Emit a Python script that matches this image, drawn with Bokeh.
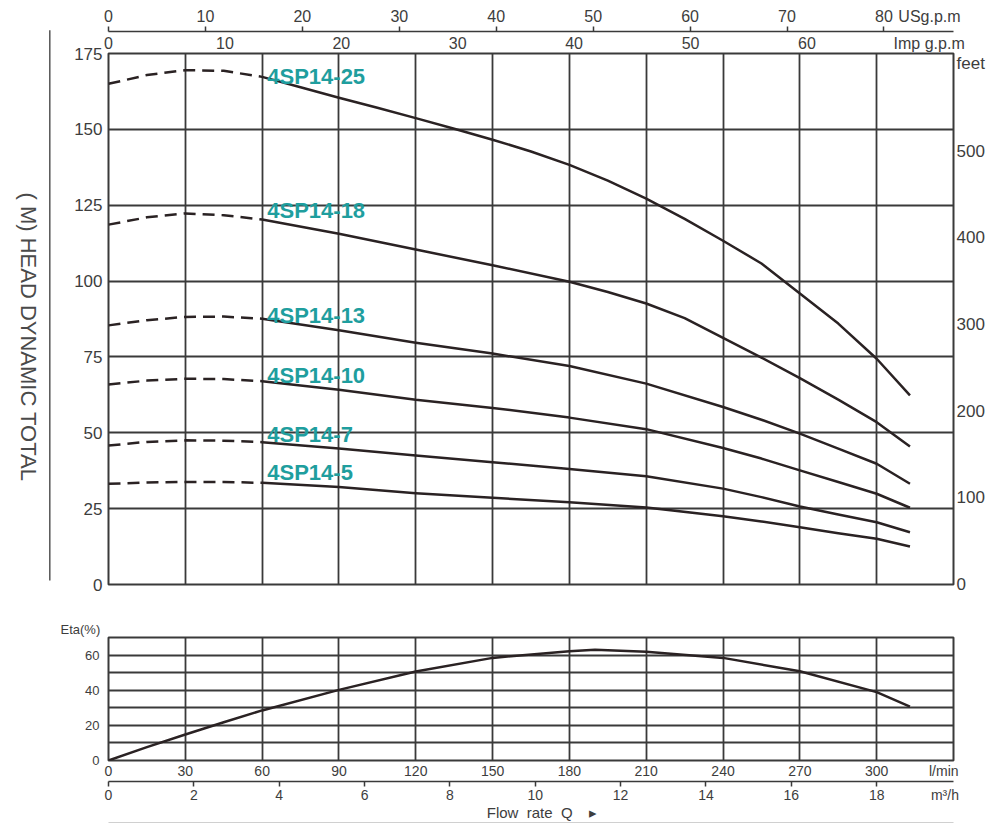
import numpy as np
from bokeh.plotting import figure
from bokeh.models import (LinearAxis, Range1d, FixedTicker, Grid, ColumnDataSource)
from bokeh.layouts import column, row
from bokeh.embed import file_html
from bokeh.resources import INLINE
from bokeh.core.properties import value

# ---------------- data ----------------
models = ["4SP14-25", "4SP14-18", "4SP14-13", "4SP14-10", "4SP14-7", "4SP14-5"]

# dashed (not recommended) part of each curve, flow in l/min, head in m
flow_dash = [0, 15, 30, 45, 60]
head_dash_25 = [165.0, 167.9, 169.5, 169.3, 167.3]
head_dash_18 = [118.6, 121.0, 122.3, 121.7, 120.3]
head_dash_13 = [85.4, 87.1, 88.2, 88.3, 87.6]
head_dash_10 = [65.9, 67.2, 67.8, 67.7, 67.0]
head_dash_7 = [45.8, 47.0, 47.5, 47.4, 46.9]
head_dash_5 = [33.2, 33.6, 33.8, 33.8, 33.5]

# solid (working) part of each curve
flow_25 = [60, 75, 90, 105, 120, 135, 150, 165, 180, 195, 210, 225, 240, 255, 270, 285, 300, 313]
head_25 = [167.3, 163.9, 160.4, 157.1, 153.7, 150.2, 146.6, 142.7, 138.3, 133.1, 127.2,
           120.5, 113.3, 105.8, 95.9, 86.0, 74.4, 62.3]
flow_18 = [60, 90, 120, 150, 180, 195, 210, 225, 240, 255, 270, 285, 300, 313]
head_18 = [120.3, 115.6, 110.4, 105.2, 99.8, 96.4, 92.6, 87.8, 81.3, 74.8, 68.0, 60.9, 53.5, 45.5]
flow_solid = [60, 90, 120, 150, 180, 210, 240, 255, 270, 285, 300, 313]
head_13 = [87.6, 83.8, 79.7, 76.1, 72.0, 66.2, 58.5, 54.3, 49.7, 44.8, 39.8, 33.2]
head_10 = [67.0, 64.2, 60.9, 58.2, 55.0, 51.2, 45.0, 41.5, 37.6, 33.8, 29.9, 25.3]
head_7 = [46.9, 44.8, 42.5, 40.3, 38.1, 35.7, 31.6, 28.8, 25.7, 23.1, 20.5, 17.2]
head_5 = [33.5, 32.1, 30.1, 28.6, 27.1, 25.4, 22.5, 20.8, 18.9, 16.9, 15.1, 12.5]

# efficiency curve (%)
flow_eta = [0, 15, 30, 45, 60, 90, 120, 150, 180, 190, 210, 240, 270, 300, 313]
eta = [0.0, 7.6, 14.8, 21.8, 28.5, 40.2, 50.7, 58.4, 62.2, 63.0, 61.9, 58.4, 50.8, 38.9, 30.7]

# axis ticks and unit texts
head_ticks = [0, 25, 50, 75, 100, 125, 150, 175]
feet_ticks = [0, 100, 200, 300, 400, 500]
lmin_ticks = [0, 30, 60, 90, 120, 150, 180, 210, 240, 270, 300]
usgpm_ticks = [0, 10, 20, 30, 40, 50, 60, 70, 80]
impgpm_ticks = [0, 10, 20, 30, 40, 50, 60]
m3h_ticks = [0, 2, 4, 6, 8, 10, 12, 14, 16, 18]
eta_ticks = [0, 20, 40, 60]
eta_grid = [0, 10, 20, 30, 40, 50, 60, 70]

NB = "\u00a0"
y_title = "( M) HEAD DYNAMIC TOTAL"
unit_usg = "USg.p.m"
unit_imp = "Imp g.p.m"
unit_feet = "feet"
unit_lmin = "l/min"
unit_m3h = "m³/h"
flow_title = "Flow" + NB * 2 + "rate" + NB * 2 + "Q" + NB * 4 + "\u25b8"
eta_title = "Eta(%)"

# where the unit texts sit, in each axis' own units
pos_usg = 84.7
pos_imp = 70.5
pos_feet = 601.0
pos_lmin = 326.2
pos_m3h = 19.6
pos_flow = 169.3

# ---------------- styles / geometry ----------------
FONT = "Liberation Sans"
TXT = "#3d3d3d"
GRID = "#3a3a3a"
CURVE = "#2a2223"
TEAL = "#1f9e9e"

XMAX = 330.0
HMAX = 175.0
LPM_PER_USG = 3.78541
LPM_PER_IMP = 4.54609
LPM_PER_M3H = 1000.0 / 60.0

SIDE_W = 52
FRAME_W = 845
FRAME_H1 = 531
TOP1 = 53
BOT1 = 12
LEFT = 108 - SIDE_W
RIGHT = 35

head_curves = [
    (head_dash_25, flow_25, head_25),
    (head_dash_18, flow_18, head_18),
    (head_dash_13, flow_solid, head_13),
    (head_dash_10, flow_solid, head_10),
    (head_dash_7, flow_solid, head_7),
    (head_dash_5, flow_solid, head_5),
]


def make_axis(side_kw, ticks, size, minor=None, overrides=None, line=False,
              tick_out=0, standoff=2):
    ax = LinearAxis(ticker=FixedTicker(ticks=ticks, minor_ticks=minor or []), **side_kw)
    ax.major_label_text_font = FONT
    ax.major_label_text_font_size = size
    ax.major_label_text_color = TXT
    ax.major_tick_out = tick_out
    ax.major_tick_in = 0
    ax.major_tick_line_color = None
    ax.minor_tick_in = 0
    ax.minor_tick_out = tick_out
    ax.minor_tick_line_color = GRID if minor else None
    ax.minor_tick_line_width = 1.5
    ax.axis_line_color = GRID if line else None
    ax.axis_line_width = 1.5
    ax.major_label_standoff = standoff
    if overrides:
        ax.major_label_overrides = overrides
    return ax


def bare(fig):
    fig.center = []
    fig.outline_line_color = GRID
    fig.outline_line_width = 2


# ================= rotated axis title strip =================
px_per_m = FRAME_H1 / HMAX
side_h = TOP1 + FRAME_H1 + BOT1
side = figure(frame_width=SIDE_W, frame_height=side_h,
              x_range=Range1d(0, SIDE_W),
              y_range=Range1d(-BOT1 / px_per_m, HMAX + TOP1 / px_per_m),
              x_axis_location=None, y_axis_location=None,
              output_backend="svg", toolbar_location=None,
              min_border=0)
side.center = []
side.outline_line_color = None
side.text(x=[28.3], y=[81.6], text=[y_title], angle=-np.pi / 2,
          text_align="center", text_baseline="middle", text_font=value(FONT),
          text_font_size="22px", text_color="#4a4a4a")
side.segment(x0=[49.3], y0=[1.3], x1=[49.3], y1=[182.7],
             line_color="#555555", line_width=1.5)

# ================= head chart =================
p1 = figure(frame_width=FRAME_W, frame_height=FRAME_H1,
            x_range=Range1d(0, XMAX), y_range=Range1d(0, HMAX),
            x_axis_location=None, y_axis_location=None,
            output_backend="svg", toolbar_location=None,
            min_border_left=LEFT, min_border_right=RIGHT,
            min_border_top=TOP1, min_border_bottom=BOT1)
p1.extra_x_ranges = {"imp": Range1d(0, XMAX / LPM_PER_IMP),
                     "usg": Range1d(0, XMAX / LPM_PER_USG)}
p1.extra_y_ranges = {"feet": Range1d(0, 612.7)}
bare(p1)

p1.add_layout(Grid(dimension=0, ticker=FixedTicker(ticks=lmin_ticks),
                   grid_line_color=GRID, grid_line_width=1.8))
p1.add_layout(Grid(dimension=1, ticker=FixedTicker(ticks=head_ticks),
                   grid_line_color=GRID, grid_line_width=1.8))

yl = make_axis({}, head_ticks, "17px", standoff=6)
p1.add_layout(yl, "left")

yr = make_axis({"y_range_name": "feet"}, feet_ticks + [pos_feet], "17px",
               overrides={pos_feet: unit_feet}, standoff=3)
yr.major_label_text_baseline = "alphabetic"
p1.add_layout(yr, "right")

ximp = make_axis({"x_range_name": "imp"}, impgpm_ticks + [pos_imp], "16px",
                 overrides={pos_imp: unit_imp}, standoff=2)
p1.add_layout(ximp, "above")

xus = make_axis({"x_range_name": "usg"}, usgpm_ticks + [pos_usg], "16px",
                minor=usgpm_ticks, overrides={pos_usg: unit_usg}, line=True,
                tick_out=5, standoff=2)
p1.add_layout(xus, "above")

for hd, fs, hs in head_curves:
    p1.line(flow_dash, hd, line_color=CURVE, line_width=2.5, line_dash="12 7")
    p1.line(fs, hs, line_color=CURVE, line_width=2.5, line_join="round")

label_y = [167.4, 123.2, 88.7, 68.9, 49.5, 36.9]
lab_src = ColumnDataSource(dict(x=[62.0] * len(models), y=label_y, text=models))
p1.text(x="x", y="y", text="text", source=lab_src, text_font=value(FONT),
        text_font_style="bold", text_font_size="22px", text_color=TEAL,
        text_align="left", text_baseline="middle")

# ================= efficiency chart =================
p2 = figure(frame_width=FRAME_W, frame_height=123,
            x_range=Range1d(0, XMAX), y_range=Range1d(0, 70),
            x_axis_location=None, y_axis_location=None,
            output_backend="svg", toolbar_location=None, title=eta_title,
            min_border_left=LEFT, min_border_right=RIGHT,
            min_border_top=41, min_border_bottom=62)
p2.extra_x_ranges = {"m3h": Range1d(0, XMAX / LPM_PER_M3H)}
bare(p2)
p2.title.align = "left"
p2.title.offset = -48
p2.title.standoff = 1
p2.title.text_font = FONT
p2.title.text_font_size = "13px"
p2.title.text_font_style = "normal"
p2.title.text_color = TXT

p2.add_layout(Grid(dimension=0, ticker=FixedTicker(ticks=lmin_ticks),
                   grid_line_color=GRID, grid_line_width=1.8))
p2.add_layout(Grid(dimension=1, ticker=FixedTicker(ticks=eta_grid),
                   grid_line_color=GRID, grid_line_width=1.8))

ye = make_axis({}, eta_ticks, "13px", standoff=9)
p2.add_layout(ye, "left")

xl = make_axis({}, lmin_ticks + [pos_lmin], "14px",
               overrides={pos_lmin: unit_lmin}, standoff=2)
p2.add_layout(xl, "below")

xm = make_axis({"x_range_name": "m3h"}, m3h_ticks + [pos_m3h], "14px",
               minor=m3h_ticks, overrides={pos_m3h: unit_m3h}, line=True,
               tick_out=5, standoff=0)
p2.add_layout(xm, "below")

xf = make_axis({}, [pos_flow], "15px", overrides={pos_flow: flow_title}, standoff=-2)
p2.add_layout(xf, "below")

xrule = make_axis({}, [], "10px", line=True)
xrule.axis_line_color = "#444444"
p2.add_layout(xrule, "below")

p2.line(flow_eta, eta, line_color=CURVE, line_width=2.5, line_join="round")

layout = row(side, column(p1, p2, spacing=0), spacing=0)
open("out.html", "w").write(file_html(layout, INLINE))
